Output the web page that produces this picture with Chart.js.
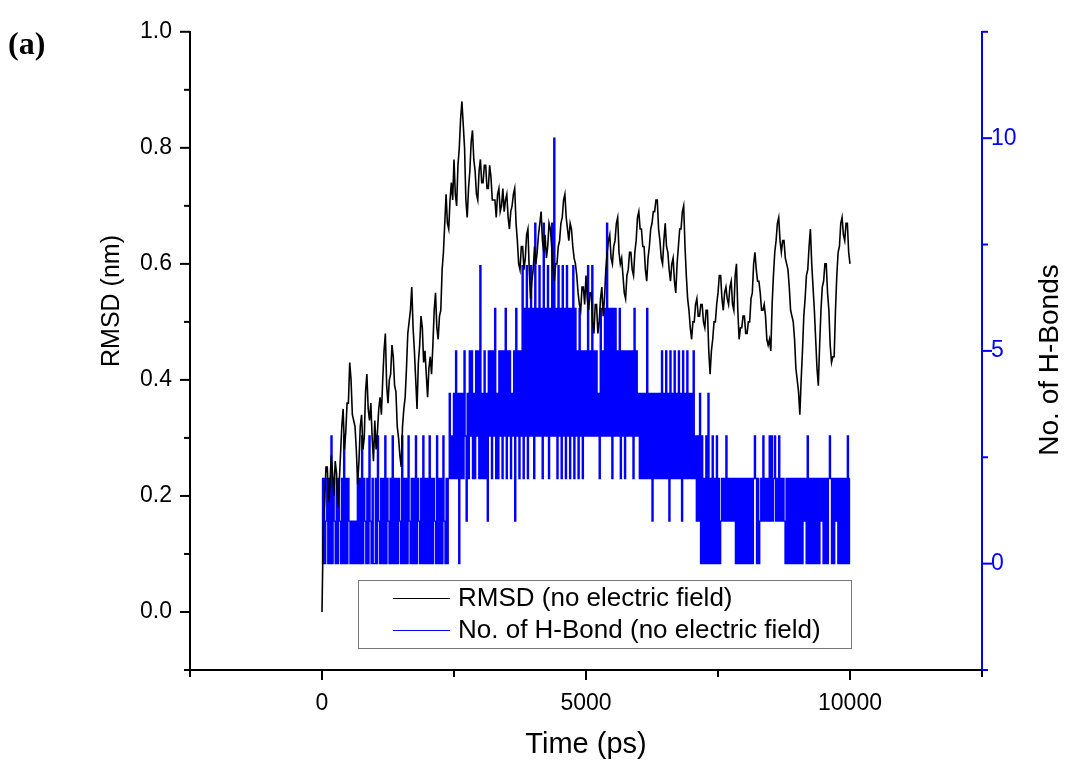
<!DOCTYPE html>
<html><head><meta charset="utf-8">
<script src="https://cdn.jsdelivr.net/npm/chart.js@4.4.1/dist/chart.umd.min.js"></script>
<style>html,body{margin:0;padding:0;background:#fff;}#wrap{width:1068px;height:762px;position:relative;}</style>
</head><body><div id="wrap"><canvas id="c" width="1068" height="762"></canvas></div>
<script>
// ---- data ----
const rmsdStepPs = 25;   // sampling interval of RMSD values (ps)
const rmsdValues = [
 0.00,0.15,0.19,0.25,0.25,0.19,0.22,0.27,0.24,0.20,0.26,0.24,0.18,0.22,0.27,0.32,0.35,0.28,0.31,0.36,
 0.36,0.43,0.40,0.34,0.33,0.32,0.28,0.22,0.26,0.32,0.34,0.28,0.30,0.38,0.41,0.35,0.33,0.36,0.30,0.26,
 0.33,0.28,0.31,0.35,0.37,0.34,0.40,0.45,0.48,0.39,0.36,0.40,0.41,0.46,0.44,0.39,0.38,0.32,0.30,0.27,
 0.25,0.32,0.35,0.37,0.42,0.48,0.50,0.52,0.56,0.49,0.45,0.40,0.35,0.43,0.46,0.51,0.49,0.43,0.45,0.41,
 0.37,0.42,0.44,0.41,0.46,0.52,0.55,0.49,0.47,0.51,0.52,0.59,0.62,0.67,0.72,0.67,0.66,0.71,0.74,0.71,
 0.78,0.72,0.70,0.77,0.80,0.85,0.88,0.84,0.80,0.71,0.68,0.73,0.76,0.81,0.83,0.78,0.76,0.72,0.71,0.76,
 0.78,0.74,0.74,0.77,0.77,0.73,0.73,0.77,0.75,0.71,0.71,0.71,0.68,0.72,0.73,0.69,0.70,0.73,0.69,0.71,
 0.72,0.68,0.66,0.69,0.70,0.72,0.73,0.67,0.64,0.60,0.59,0.63,0.63,0.59,0.61,0.65,0.66,0.59,0.54,0.57,
 0.59,0.63,0.60,0.62,0.65,0.67,0.69,0.64,0.62,0.65,0.61,0.63,0.67,0.66,0.63,0.59,0.57,0.60,0.60,0.63,
 0.64,0.67,0.68,0.71,0.72,0.68,0.66,0.64,0.67,0.66,0.63,0.61,0.60,0.58,0.55,0.53,0.52,0.56,0.56,0.53,
 0.58,0.54,0.52,0.55,0.55,0.50,0.48,0.53,0.53,0.48,0.50,0.54,0.56,0.51,0.54,0.59,0.62,0.64,0.65,0.61,
 0.60,0.63,0.64,0.67,0.68,0.62,0.60,0.61,0.58,0.55,0.54,0.58,0.59,0.62,0.62,0.59,0.58,0.62,0.64,0.68,
 0.69,0.66,0.66,0.63,0.63,0.59,0.57,0.61,0.63,0.66,0.67,0.69,0.69,0.71,0.71,0.66,0.64,0.61,0.60,0.64,
 0.67,0.63,0.62,0.59,0.57,0.60,0.61,0.57,0.55,0.60,0.63,0.66,0.66,0.69,0.70,0.63,0.58,0.54,0.52,0.49,
 0.47,0.50,0.50,0.53,0.54,0.51,0.51,0.53,0.53,0.50,0.49,0.52,0.52,0.45,0.41,0.45,0.47,0.50,0.50,0.53,
 0.55,0.58,0.58,0.54,0.52,0.55,0.56,0.54,0.53,0.56,0.57,0.53,0.52,0.58,0.60,0.52,0.47,0.49,0.49,0.51,
 0.51,0.48,0.48,0.50,0.50,0.54,0.55,0.60,0.62,0.59,0.57,0.57,0.55,0.52,0.52,0.53,0.51,0.47,0.46,0.47,
 0.45,0.53,0.58,0.62,0.64,0.67,0.68,0.64,0.62,0.64,0.64,0.61,0.60,0.59,0.56,0.52,0.51,0.50,0.47,0.42,
 0.40,0.38,0.34,0.40,0.45,0.51,0.54,0.58,0.59,0.63,0.66,0.60,0.56,0.52,0.47,0.42,0.39,0.46,0.52,0.56,
 0.57,0.60,0.60,0.55,0.52,0.46,0.43,0.44,0.44,0.52,0.58,0.62,0.63,0.67,0.68,0.65,0.64,0.67,0.67,0.62,
 0.60];
const hbondStepPs = 20;  // sampling interval of H-bond counts (ps)
const hbondValues = [
 2,0,2,0,1,2,0,2,0,3, 0,2,1,0,2,0,2,1,0,2, 0,3,0,2,0,2,1,0,1,0, 1,0,1,0,2,0,2,0,3,0, 2,1,0,2,0,3,1,0,2,0,
 0,2,0,3,1,0,2,0,2,0, 3,0,2,1,0,2,0,3,0,2, 0,2,0,2,1,0,3,0,2,0, 2,0,3,1,0,2,0,2,0,3, 0,2,1,0,2,0,3,0,2,0,
 2,0,3,0,2,0,2,1,0,3, 0,2,0,2,0,3,1,0,2,0, 2, 4,2,3,2,4,2,5,2,4,0, 4,2,4,2,5,3,1,4,2,5, 3,5,2,4,2,5,3,5,2,
 7,2,4,2,5,2,4,1,5,3, 5,2,5,3,6,2,4,2,5,3, 5,2,5,3,6,2,5,3,5,2, 4,3,5,1,6,3,5,2,5,3, 7,2,6,3,7,2,6,3,7,3,
 6,2,8,3,6,3,7,3,6,2, 8,3,6,3,7,2,6,3,8,3, 10,3,6,2,7,3,6,2,7,3, 6,2,7,3,6,2,6,3,7,2, 6,3,5,2,6,3,5,2,5,3,
 5,3,7,3,5,3,7,3,5,3, 5,3,4,2,6,3,5,3,6,3, 8,3,6,3,6,2,6,3,6,3, 5,3,6,2,5,3,5,2,5,3, 5,3,5,3,5,2,6,3,5,3,
 4,2,4,2,4,2,4,2,6,2, 4,2,4,1,4,2,4,2,4,2, 4,2,5,2,4,2,5,2,4,1, 5,2,4,2,5,2,4,2,5,2, 4,1,5,2,4,2,5,2,4,2,
 4,2,5,2,3,1,3,1,4,0, 3,0,2,0,3,0,4,0,2,0, 3,0,2,0,3,0,2,0,1,2, 1,2,1,3,1,2,1,2,1,2, 1,2,0,2,0,2,0,2,0,2,
 0,2,0,2,0,2,0,2,0,2, 3,2,0,2,0,1,2,1,3,1, 2,1,2,1,3,1,3,1,2,3, 1,2,1,3,1,2,1,2,1,0, 2,0,2,0,2,0,2,0,2,0,
 2,0,2,0,2,0,2,1,2,0, 3,0,2,0,2,0,2,0,2,0, 2,0,2,1,2,0,2,0,2,0, 2,3,2,0,2,0,2,1,2,0, 2,0,2,0,2,0,2,0,3,0,
 2];
const seriesLabels = ['RMSD (no electric field)', 'No. of H-Bond (no electric field)'];
const xMajorTicks = [0, 5000, 10000];
const yLeftMajorTicks = [0.0, 0.2, 0.4, 0.6, 0.8, 1.0];
const yRightMajorTicks = [0, 5, 10];

// ---- build datasets ----
const rmsdData = rmsdValues.map((v, i) => ({x: i * rmsdStepPs, y: v}));
const hbondData = hbondValues.map((v, i) => ({x: i * hbondStepPs, y: v}));

const near = (a, b) => Math.abs(a - b) < 1e-6;
const isIn = (arr, v) => arr.some(a => near(a, v));
const FONT = "'Liberation Sans', Arial, sans-serif";

const ticksPlugin = {
  id: 'customTicks',
  afterDraw(chart) {
    const {ctx, scales} = chart;
    ctx.save();
    ctx.lineWidth = 2;
    ctx.strokeStyle = '#000';
    scales.x.ticks.forEach(t => {
      const px = scales.x.getPixelForValue(t.value);
      const len = isIn(xMajorTicks, t.value) ? 10 : 7;
      ctx.beginPath(); ctx.moveTo(px, scales.x.top); ctx.lineTo(px, scales.x.top + len); ctx.stroke();
    });
    scales.y.ticks.forEach(t => {
      const py = scales.y.getPixelForValue(t.value);
      const len = isIn(yLeftMajorTicks, t.value) ? 10 : 6;
      ctx.beginPath(); ctx.moveTo(scales.y.right, py); ctx.lineTo(scales.y.right - len, py); ctx.stroke();
    });
    ctx.strokeStyle = '#0000ff';
    scales.y2.ticks.forEach(t => {
      const py = scales.y2.getPixelForValue(t.value);
      const len = isIn(yRightMajorTicks, t.value) ? 10 : 6;
      ctx.beginPath(); ctx.moveTo(scales.y2.left, py); ctx.lineTo(scales.y2.left + len, py); ctx.stroke();
    });
    // rotated axis titles
    ctx.fillStyle = '#000';
    ctx.textAlign = 'center'; ctx.textBaseline = 'middle';
    ctx.font = "25px " + FONT;
    ctx.save(); ctx.translate(112, 301); ctx.rotate(-Math.PI / 2); ctx.fillText('RMSD (nm)', 0, 0); ctx.restore();
    ctx.font = "28px " + FONT;
    ctx.save(); ctx.translate(1050, 360); ctx.rotate(-Math.PI / 2); ctx.fillText('No. of H-Bonds', 0, 0); ctx.restore();
    // panel label
    ctx.font = "bold 32px 'Liberation Serif', 'Times New Roman', serif";
    ctx.textAlign = 'left';
    ctx.fillText('(a)', 8, 46);
    // legend
    const lx = 358.5, ly = 580.5, lw = 493, lh = 68;
    ctx.lineWidth = 1; ctx.strokeStyle = '#777';
    ctx.strokeRect(lx, ly, lw, lh);
    ctx.font = "26px " + FONT;
    chart.data.datasets.forEach((ds, i) => {
      const cy = 598 + i * 32;
      ctx.strokeStyle = ds.borderColor; ctx.lineWidth = 1;
      ctx.beginPath(); ctx.moveTo(393, cy + 0.5); ctx.lineTo(450, cy + 0.5); ctx.stroke();
      ctx.fillStyle = '#000'; ctx.textAlign = 'left'; ctx.textBaseline = 'middle';
      ctx.fillText(ds.label, 458, cy + 1);
    });
    ctx.restore();
  }
};

new Chart(document.getElementById('c'), {
  type: 'line',
  data: {
    datasets: [
      {label: seriesLabels[0], data: rmsdData, yAxisID: 'y', borderColor: '#000000', borderWidth: 1.6, pointRadius: 0, tension: 0, fill: false},
      {label: seriesLabels[1], data: hbondData, yAxisID: 'y2', borderColor: '#0000ff', borderWidth: 1.4, pointRadius: 0, stepped: 'middle', fill: false}
    ]
  },
  options: {
    responsive: false, animation: false, devicePixelRatio: 1,
    layout: {padding: {top: 27, left: 0, right: 0, bottom: 0}},
    plugins: {legend: {display: false}, tooltip: {enabled: false}},
    scales: {
      x: {
        type: 'linear', position: 'bottom', min: -2500, max: 12500,
        afterFit(s) { s.height = 92; },
        grid: {display: false, drawTicks: false},
        border: {display: true, color: '#000', width: 2},
        ticks: {stepSize: 2500, autoSkip: false, maxRotation: 0, padding: 20, color: '#000',
          font: {family: FONT, size: 23},
          callback: v => isIn(xMajorTicks, v) ? String(v) : ''},
        title: {display: true, text: 'Time (ps)', color: '#000', font: {family: FONT, size: 29}, padding: {top: 0, bottom: 0}}
      },
      y: {
        type: 'linear', position: 'left', min: -0.1, max: 1.0,
        afterFit(s) { s.width = 190; },
        grid: {display: false, drawTicks: false},
        border: {display: true, color: '#000', width: 2},
        ticks: {stepSize: 0.1, autoSkip: false, padding: 18, color: '#000',
          font: {family: FONT, size: 23},
          callback: v => isIn(yLeftMajorTicks, v) ? v.toFixed(1) : ''}
      },
      y2: {
        type: 'linear', position: 'right', min: -2.5, max: 12.5,
        afterFit(s) { s.width = 86; },
        grid: {display: false, drawTicks: false},
        border: {display: true, color: '#0000ff', width: 2},
        ticks: {stepSize: 2.5, autoSkip: false, padding: 9, color: '#0000ff',
          font: {family: FONT, size: 23},
          callback: v => isIn(yRightMajorTicks, v) ? String(Math.round(v)) : ''}
      }
    }
  },
  plugins: [ticksPlugin]
});
</script></body></html>
